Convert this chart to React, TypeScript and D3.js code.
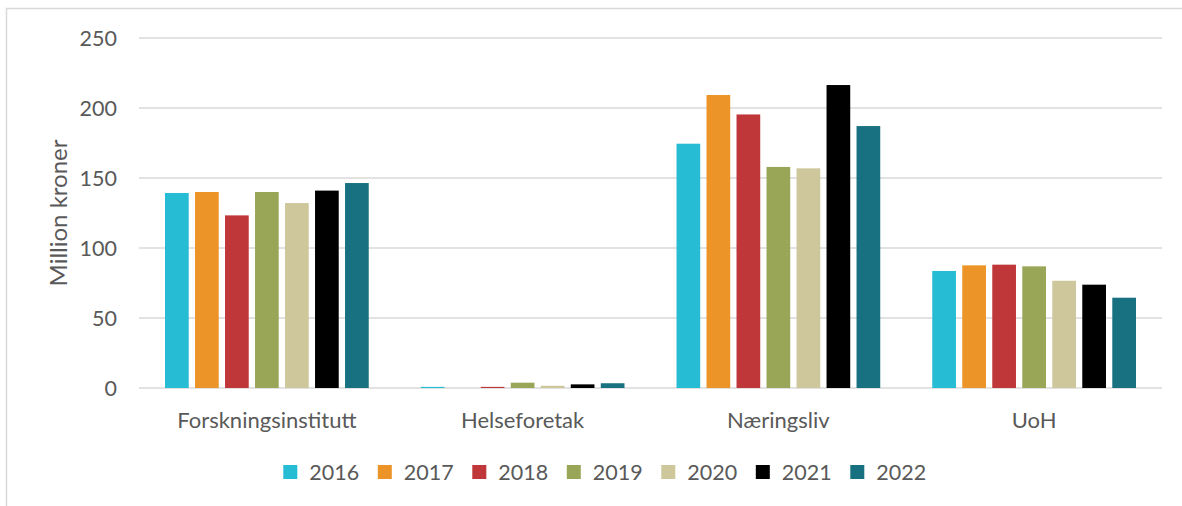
import React from "react"
import * as d3 from "d3"

const categories = ["Forskningsinstitutt", "Helseforetak", "Næringsliv", "UoH"]
const years = ["2016", "2017", "2018", "2019", "2020", "2021", "2022"]
const colors = ["#26bcd4", "#ec9428", "#c0373a", "#9aa657", "#cec79c", "#000000", "#187180"]

// values per year, in category order
const v2016 = [139.3, 0.8, 174.5, 83.6]
const v2017 = [140, 0, 209.3, 87.6]
const v2018 = [123.3, 0.8, 195.4, 88.1]
const v2019 = [140, 3.8, 157.9, 86.9]
const v2020 = [132.1, 1.6, 156.9, 76.6]
const v2021 = [141, 2.6, 216.4, 73.8]
const v2022 = [146.4, 3.4, 187.1, 64.5]
const series = [v2016, v2017, v2018, v2019, v2020, v2021, v2022]

const yTicks = [0, 50, 100, 150, 200, 250]

const W = 1182
const H = 506
const margin = { top: 38, right: 20, bottom: 118, left: 139 }
const textColor = "#595959"
const font = "Lato, 'Open Sans', sans-serif"

export default function App() {
  const x0 = d3.scaleBand().domain(categories).range([margin.left, W - margin.right])
  const x1 = d3
    .scaleBand()
    .domain(years)
    .range([0, x0.bandwidth()])
    .paddingInner(0.21)
    .paddingOuter(0.867)
  const y = d3.scaleLinear().domain([0, 250]).range([H - margin.bottom, margin.top])

  const legendStep = 94.5
  const legendStart = 283.3

  return (
    <svg
      width={W}
      height={H}
      style={{ position: "absolute", left: 0, top: 0, background: "#fff" }}
      fontFamily={font}
    >
      <rect x={6.5} y={8.5} width={W + 20} height={H + 20} fill="#fff" stroke="#d9d9d9" strokeWidth={1.5} />

      {yTicks.map((t) => (
        <g key={t}>
          <line
            x1={margin.left}
            x2={W - margin.right}
            y1={y(t)}
            y2={y(t)}
            stroke="#d9d9d9"
            strokeWidth={1.5}
          />
          <text x={117} y={y(t)} dy="0.35em" textAnchor="end" fontSize={21.5} fill={textColor}>
            {t}
          </text>
        </g>
      ))}

      <text
        transform={`translate(59,${(y(0) + y(250)) / 2}) rotate(-90)`}
        textAnchor="middle"
        dy="0.35em"
        fontSize={24}
        fill={textColor}
      >
        Million kroner
      </text>

      {categories.map((c, ci) => (
        <g key={c} transform={`translate(${x0(c)},0)`}>
          {years.map((yr, yi) => {
            const v = series[yi][ci]
            return (
              <rect
                key={yr}
                x={x1(yr)}
                y={y(v)}
                width={x1.bandwidth()}
                height={y(0) - y(v)}
                fill={colors[yi]}
              />
            )
          })}
          <text
            x={x0.bandwidth() / 2}
            y={420}
            dy="0.35em"
            textAnchor="middle"
            fontSize={22}
            fill={textColor}
          >
            {c}
          </text>
        </g>
      ))}

      {years.map((yr, i) => (
        <g key={yr} transform={`translate(${legendStart + i * legendStep},472)`}>
          <rect x={0} y={-7} width={14} height={14} fill={colors[i]} />
          <text x={26} dy="0.35em" fontSize={21.5} fill={textColor}>
            {yr}
          </text>
        </g>
      ))}
    </svg>
  )
}
